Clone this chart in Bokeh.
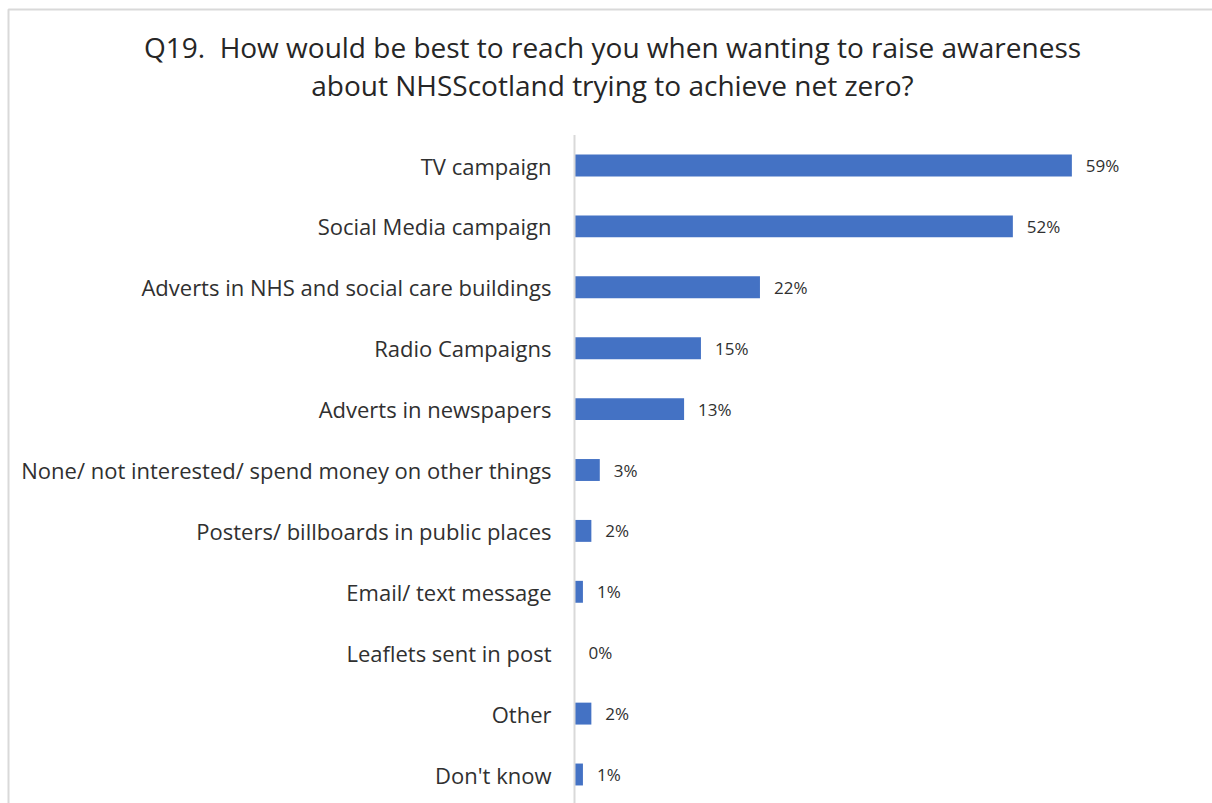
from bokeh.plotting import figure
from bokeh.models import Range1d, ColumnDataSource, Label
from bokeh.core.properties import value
from bokeh.embed import file_html
from bokeh.resources import INLINE

# Survey responses (percent of respondents)
categories = [
    "TV campaign",
    "Social Media campaign",
    "Adverts in NHS and social care buildings",
    "Radio Campaigns",
    "Adverts in newspapers",
    "None/ not interested/ spend money on other things",
    "Posters/ billboards in public places",
    "Email/ text message",
    "Leaflets sent in post",
    "Other",
    "Don't know",
]
percentages = [59, 52, 22, 15, 13, 3, 2, 1, 0, 2, 1]
value_labels = [f"{v}%" for v in percentages]

title_lines = [
    "Q19.\u00a0 How would be best to reach you when wanting to raise awareness",
    "about NHSScotland trying to achieve net zero?",
]

W, H = 1212, 803
AXIS_PX = 574          # pixel column of the category axis
PX_PER_PCT = 8.43      # horizontal scale
ROW0_PX = 165          # centre of first row
ROW_PX = 60.9          # row pitch

FONT = "Open Sans"
BAR_COLOR = "#4472C4"
TEXT_COLOR = "#303030"

p = figure(
    width=W, height=H,
    x_range=Range1d(-AXIS_PX / PX_PER_PCT, (W - AXIS_PX) / PX_PER_PCT),
    y_range=Range1d((H - ROW0_PX) / ROW_PX, -ROW0_PX / ROW_PX),
    output_backend="svg", toolbar_location=None,
    min_border=0, border_fill_color="white", background_fill_color="white",
    outline_line_color=None,
)
p.xaxis.visible = False
p.yaxis.visible = False
p.xgrid.visible = False
p.ygrid.visible = False

rows = list(range(len(categories)))
src = ColumnDataSource(dict(y=rows, v=percentages, cat=categories, lab=value_labels))

# chart area border (top and left edges)
def px_x(px):
    return (px - AXIS_PX) / PX_PER_PCT

def px_y(py):
    return (py - ROW0_PX) / ROW_PX

p.line([px_x(8), px_x(8), px_x(W + 5)], [px_y(H + 5), px_y(9), px_y(9)],
       line_color="#d9d9d9", line_width=2)

# bars
p.hbar(y="y", left=0, right="v", height=0.36, source=src,
       fill_color=BAR_COLOR, line_color=None)

# category axis line
p.segment(x0=0, y0=-0.5, x1=0, y1=len(categories) - 0.5,
          line_color="#d9d9d9", line_width=2)

# category labels
p.text(x=0, y="y", text="cat", source=src, x_offset=-23,
       text_align="right", text_baseline="middle",
       text_font=value(FONT), text_font_size="22px", text_color=TEXT_COLOR)

# value labels
p.text(x="v", y="y", text="lab", source=src, x_offset=14,
       text_align="left", text_baseline="middle",
       text_font=value(FONT), text_font_size="17px", text_color=TEXT_COLOR)

# title
for i, line in enumerate(title_lines):
    p.add_layout(Label(x=612, y=H - 46 - 38 * i, x_units="screen", y_units="screen",
                       text=line, text_align="center", text_baseline="middle",
                       text_font=FONT, text_font_size="28px", text_color="#262626"))

open("out.html", "w").write(file_html(p, INLINE))
